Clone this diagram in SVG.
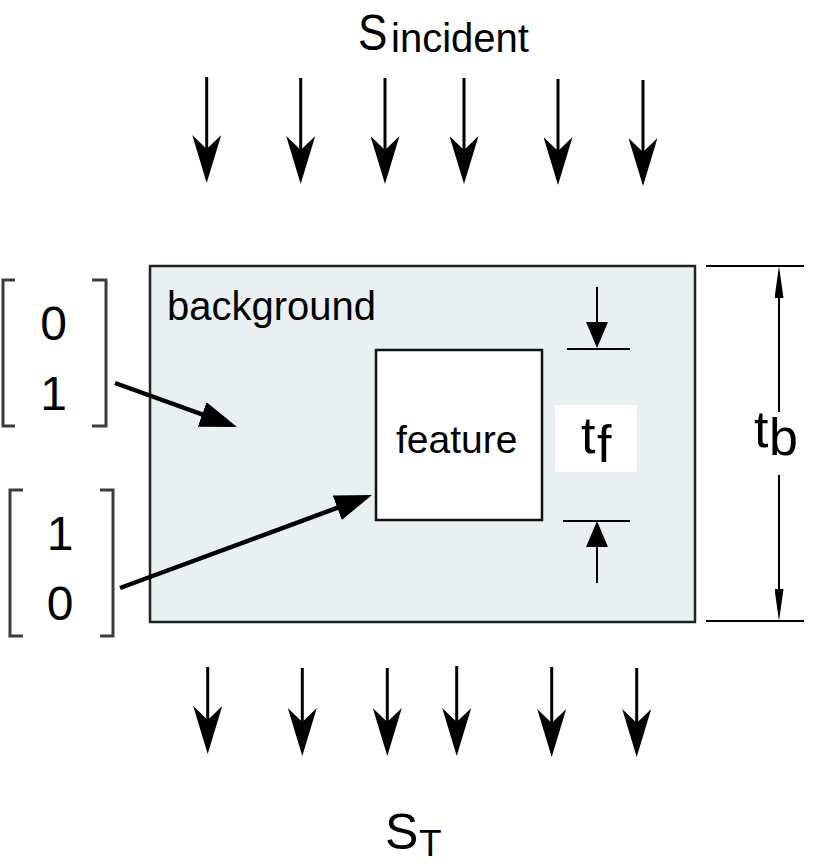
<svg xmlns="http://www.w3.org/2000/svg" width="816" height="864" viewBox="0 0 816 864">
  <style>
    .t { font-family: "Liberation Sans", Arial, sans-serif; fill: #000; }
    .flux { stroke: #000; stroke-width: 3; fill: none; marker-end: url(#flux); }
    .dim { stroke: #000; stroke-width: 2; fill: none; }
    .brk { stroke: #3c3c3c; stroke-width: 3; fill: none; }
    .ptr { stroke: #000; stroke-width: 4.5; fill: none; marker-end: url(#big); }
  </style>
  <defs>
    <marker id="flux" viewBox="0 0 48 29" markerUnits="userSpaceOnUse" markerWidth="48" markerHeight="29" refX="18" refY="14.5" orient="auto">
      <path d="M0,0 L48,14.5 L0,29 L14,14.5 Z" fill="#000"/>
    </marker>
    <marker id="tb" viewBox="0 0 32 9" markerUnits="userSpaceOnUse" markerWidth="32" markerHeight="9" refX="22" refY="4.5" orient="auto">
      <path d="M0,0 L32,4.5 L0,9 Z" fill="#000"/>
    </marker>
    <marker id="tf" viewBox="0 0 26 22" markerUnits="userSpaceOnUse" markerWidth="26" markerHeight="22" refX="16" refY="11" orient="auto">
      <path d="M0,0 L26,11 L0,22 Z" fill="#000"/>
    </marker>
    <marker id="big" viewBox="0 0 37 26" markerUnits="userSpaceOnUse" markerWidth="37" markerHeight="26" refX="22" refY="13" orient="auto">
      <path d="M0,0 L37,13 L0,26 Z" fill="#000"/>
    </marker>
  </defs>

  <g id="background">
    <rect x="150" y="266" width="545" height="356" fill="#e9f0f2" stroke="#222" stroke-width="2.5"/>
    <text class="t" x="167" y="320" font-size="40">background</text>
  </g>

  <g id="feature">
    <rect x="376" y="350" width="166" height="170" fill="#fff" stroke="#111" stroke-width="2.5"/>
    <text class="t" x="396" y="453" font-size="39">feature</text>
  </g>

  <g id="label-tf">
    <rect x="555" y="405" width="82" height="67" fill="#fff"/>
    <text class="t" x="581" y="453" font-size="52">t</text>
    <text class="t" x="597" y="462" font-size="52">f</text>
  </g>

  <g id="label-tb">
    <text class="t" x="754" y="447" font-size="52">t</text>
    <text class="t" x="769" y="455" font-size="52">b</text>
  </g>

  <g id="label-incident">
    <text class="t" x="358" y="50" font-size="50" transform="translate(358 0) scale(0.88 1) translate(-358 0)">S</text>
    <text class="t" x="391" y="52" font-size="40">incident</text>
  </g>

  <g id="label-transmitted">
    <text class="t" x="385" y="849" font-size="50">S</text>
    <text class="t" x="419" y="856" font-size="37">T</text>
  </g>

  <g id="vector-01">
    <path class="brk" d="M15,280 H3 V426 H15 M92,280 H106 V426 H92"/>
    <text class="t" x="53.5" y="340" font-size="48" text-anchor="middle">0</text>
    <text class="t" x="53.5" y="410" font-size="48" text-anchor="middle">1</text>
  </g>

  <g id="vector-10">
    <path class="brk" d="M23,490 H10 V636 H23 M100,490 H113 V636 H100"/>
    <text class="t" x="60" y="550" font-size="48" text-anchor="middle">1</text>
    <text class="t" x="60" y="620" font-size="48" text-anchor="middle">0</text>
  </g>

  <g id="connectors">
    <!-- incident flux -->
    <line class="flux" x1="206.7" y1="77" x2="206.7" y2="153"/>
    <line class="flux" x1="300.7" y1="78" x2="300.7" y2="154"/>
    <line class="flux" x1="385" y1="78" x2="385" y2="154"/>
    <line class="flux" x1="464" y1="78" x2="464" y2="154"/>
    <line class="flux" x1="558" y1="79" x2="558" y2="155"/>
    <line class="flux" x1="643" y1="80" x2="643" y2="156"/>
    <!-- transmitted flux -->
    <line class="flux" x1="207.7" y1="667" x2="207.7" y2="724"/>
    <line class="flux" x1="302.3" y1="668" x2="302.3" y2="726"/>
    <line class="flux" x1="387.3" y1="668" x2="387.3" y2="726"/>
    <line class="flux" x1="456.7" y1="666" x2="456.7" y2="726"/>
    <line class="flux" x1="551.7" y1="667" x2="551.7" y2="727"/>
    <line class="flux" x1="636.7" y1="668" x2="636.7" y2="727"/>
    <!-- pointers from vectors -->
    <line class="ptr" x1="115" y1="383" x2="222.9" y2="421.9"/>
    <line class="ptr" x1="120" y1="588" x2="357.9" y2="500.2"/>
    <!-- t_b dimension -->
    <line class="dim" x1="706" y1="266" x2="804" y2="266"/>
    <line class="dim" x1="706" y1="621" x2="804" y2="621"/>
    <line class="dim" x1="779" y1="412" x2="779" y2="276" marker-end="url(#tb)"/>
    <line class="dim" x1="779" y1="475" x2="779" y2="611" marker-end="url(#tb)"/>
    <!-- t_f dimension -->
    <line class="dim" x1="567" y1="349" x2="630" y2="349"/>
    <line class="dim" x1="563" y1="521" x2="630" y2="521"/>
    <line class="dim" stroke-width="2.5" x1="597" y1="287" x2="597" y2="338" marker-end="url(#tf)"/>
    <line class="dim" stroke-width="2.5" x1="597" y1="583" x2="597" y2="531" marker-end="url(#tf)"/>
  </g>
</svg>
